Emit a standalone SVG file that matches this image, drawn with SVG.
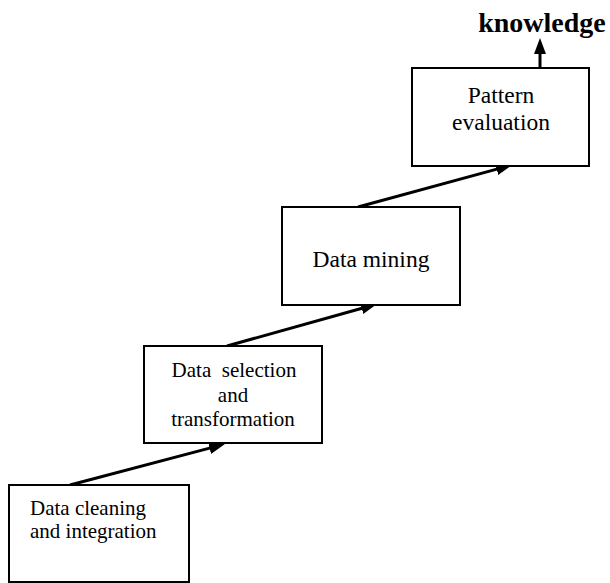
<svg xmlns="http://www.w3.org/2000/svg" width="610" height="583" viewBox="0 0 610 583">
<style>
  .box { fill: #fff; stroke: #000; stroke-width: 2; }
  .t { font-family: "Liberation Serif", "Times New Roman", serif; fill: #000; }
  .s21 { font-size: 21px; }
  .s23 { font-size: 23.5px; }
  .c { text-anchor: middle; }
  .conn { stroke: #000; stroke-width: 3; fill: none; marker-end: url(#ah); }
</style>
<defs>
  <marker id="ah" markerUnits="userSpaceOnUse" markerWidth="17" markerHeight="13" refX="6" refY="6" orient="auto">
    <path d="M0,0 L16,6 L0,12 Z" fill="#000"/>
  </marker>
</defs>
<rect width="610" height="583" fill="#fff"/>
<g id="connectors">
  <line class="conn" x1="70" y1="485" x2="215.3" y2="446.6"/>
  <line class="conn" x1="227" y1="346" x2="367.4" y2="306.7"/>
  <line class="conn" x1="358" y1="207" x2="502.4" y2="167.6"/>
  <line class="conn" x1="540" y1="68" x2="540" y2="48"/>
</g>
<g id="pattern-evaluation">
  <rect class="box" x="412" y="68" width="177" height="98"/>
  <text class="t s23 c" x="501" y="103">Pattern</text>
  <text class="t s23 c" x="501" y="130">evaluation</text>
</g>
<g id="data-mining">
  <rect class="box" x="282" y="207" width="178" height="98"/>
  <text class="t s23 c" x="371" y="267">Data mining</text>
</g>
<g id="data-selection">
  <rect class="box" x="144" y="346" width="178" height="97"/>
  <text class="t s21 c" x="234" y="377" xml:space="preserve" style="white-space:pre">Data  selection</text>
  <text class="t s21 c" x="233" y="402">and</text>
  <text class="t s21 c" x="233" y="426">transformation</text>
</g>
<g id="data-cleaning">
  <rect class="box" x="9" y="485" width="180" height="97"/>
  <text class="t s21" x="30" y="515">Data cleaning</text>
  <text class="t s21" x="30" y="538">and integration</text>
</g>
<g id="knowledge">
  <text class="t" x="542" y="32" text-anchor="middle" font-size="28" font-weight="bold">knowledge</text>
</g>
</svg>
